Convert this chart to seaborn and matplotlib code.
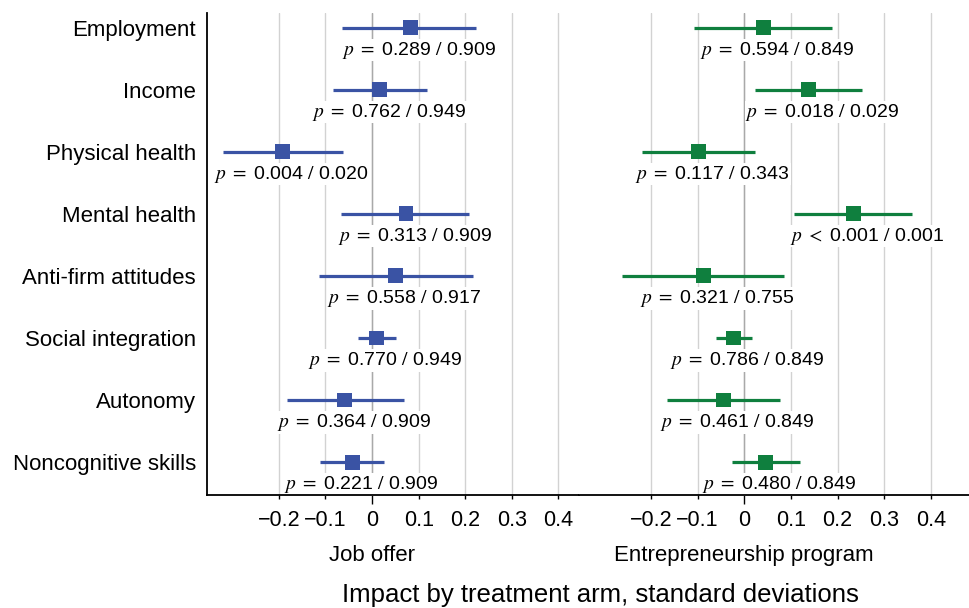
import matplotlib
matplotlib.use("Agg")
import matplotlib.pyplot as plt
import matplotlib.transforms as mtransforms
import numpy as np
import pandas as pd
import seaborn as sns

# Outcome families (top to bottom)
outcomes = ["Employment", "Income", "Physical health", "Mental health",
            "Anti-firm attitudes", "Social integration", "Autonomy",
            "Noncognitive skills"]

# Job offer arm: point estimates and 95% CI bounds (SD units)
job_est = [0.082, 0.016, -0.192, 0.073, 0.050, 0.009, -0.059, -0.042]
job_lo = [-0.064, -0.083, -0.320, -0.066, -0.114, -0.031, -0.183, -0.111]
job_hi = [0.223, 0.118, -0.062, 0.209, 0.216, 0.051, 0.068, 0.026]
job_p = ["0.289", "0.762", "0.004", "0.313", "0.558", "0.770", "0.364", "0.221"]
job_q = ["0.909", "0.949", "0.020", "0.909", "0.917", "0.949", "0.909", "0.909"]

# Entrepreneurship program arm
ent_est = [0.041, 0.138, -0.098, 0.234, -0.087, -0.023, -0.044, 0.046]
ent_lo = [-0.107, 0.024, -0.219, 0.106, -0.261, -0.061, -0.166, -0.026]
ent_hi = [0.189, 0.253, 0.024, 0.360, 0.085, 0.016, 0.076, 0.119]
ent_p = ["0.594", "0.018", "0.117", "<0.001", "0.321", "0.786", "0.461", "0.480"]
ent_q = ["0.849", "0.029", "0.343", "0.001", "0.755", "0.849", "0.849", "0.849"]

arm_names = ["Job offer", "Entrepreneurship program"]
x_ticks = [-0.2, -0.1, 0.0, 0.1, 0.2, 0.3, 0.4]
x_tick_labels = ["\u22120.2", "\u22120.1", "0", "0.1", "0.2", "0.3", "0.4"]
x_title = "Impact by treatment arm, standard deviations"

sns.set_theme(style="white")
plt.rcParams["font.family"] = ["Liberation Sans", "DejaVu Sans"]
plt.rcParams["mathtext.fontset"] = "stix"
plt.rcParams["text.color"] = "black"


def make_frame(est, lo, hi, p, q):
    return pd.DataFrame({"outcome": outcomes, "pos": np.arange(len(outcomes)),
                         "est": est, "lo": lo, "hi": hi, "p": p, "q": q})


frames = [make_frame(job_est, job_lo, job_hi, job_p, job_q),
          make_frame(ent_est, ent_lo, ent_hi, ent_p, ent_q)]
colors = ["#3a53a4", "#0f7f3e"]

W, H = 970, 608
fig = plt.figure(figsize=(W / 100, H / 100), dpi=100)
ax1 = fig.add_axes([207 / W, 113 / H, 372 / W, 482 / H])
ax2 = fig.add_axes([579 / W, 113 / H, 391 / W, 482 / H], sharey=ax1)
axes = [ax1, ax2]
xlims = [(-0.354, 0.444), (-0.354, 0.4836)]
label_dx = [0.020, 0.030]


def p_label(p, q):
    rel = "<" if p.startswith("<") else "="
    return r"$p\ %s\ $" % rel + p.lstrip("<") + r" $/$ " + q


for ax, df, col, xl, dx, name in zip(axes, frames, colors, xlims, label_dx, arm_names):
    ax.set_xlim(*xl)
    ax.set_ylim(7.53, -0.237)
    ax.set_axisbelow(True)
    ax.grid(axis="x", color="#d2d2d2", lw=1.0)
    ax.grid(axis="y", visible=False)
    ax.axvline(0, color="#a9a9a9", lw=1.0, zorder=1)

    ax.hlines(df["pos"], df["lo"], df["hi"], color=col, lw=2.3, zorder=3)
    sns.scatterplot(data=df, x="est", y="pos", marker="s", s=115, color=col,
                    edgecolor="none", linewidth=0, ax=ax, zorder=4, legend=False)

    for _, r in df.iterrows():
        ax.text(r["est"] + dx, r["pos"] + 0.36, p_label(r["p"], r["q"]),
                ha="center", va="center", fontsize=14, color="black", zorder=2,
                bbox=dict(facecolor="white", edgecolor="none", pad=0.6))

    ax.set_xticks(x_ticks)
    ax.set_xticklabels(x_tick_labels, fontsize=15.5)
    ax.tick_params(axis="x", direction="out", length=3, width=1, pad=8,
                   colors="black", bottom=True)
    # longer tick at zero
    for t, v in zip(ax.xaxis.get_major_ticks(), x_ticks):
        if v == 0:
            t.tick1line.set_markersize(6.5)
    ax.set_xlabel("")
    ax.set_ylabel("")
    blend = mtransforms.blended_transform_factory(ax.transData, ax.transAxes)
    ax.text(0, -0.1245, name, transform=blend, ha="center", va="center",
            fontsize=16)
    for s in ["top", "right"]:
        ax.spines[s].set_visible(False)
    ax.spines["bottom"].set_color("black")
    ax.spines["bottom"].set_linewidth(1.3)

ax1.set_yticks(np.arange(len(outcomes)))
ax1.set_yticklabels(outcomes, fontsize=16)
ax1.tick_params(axis="y", length=0, pad=8, colors="black")
ax1.spines["left"].set_color("black")
ax1.spines["left"].set_linewidth(1.3)
ax2.spines["left"].set_visible(False)
ax2.tick_params(axis="y", left=False, labelleft=False)

fig.text(600 / W, 1 - 595 / H, x_title, ha="center", va="center", fontsize=18.5)

fig.savefig("out.png", dpi=100)
